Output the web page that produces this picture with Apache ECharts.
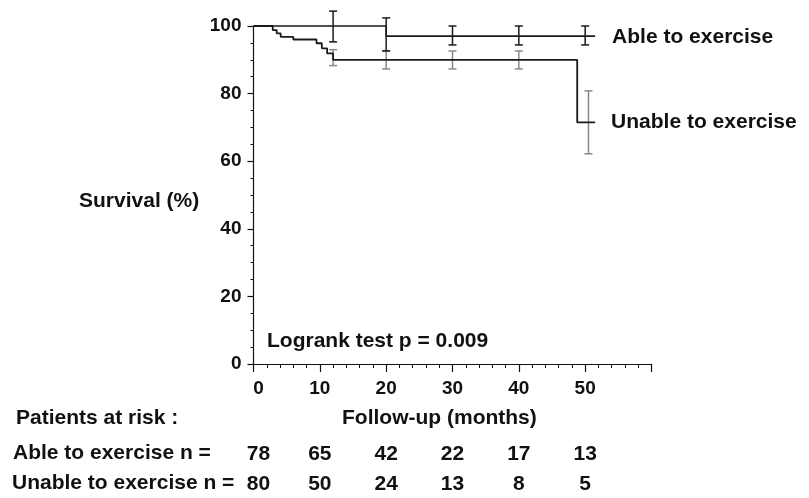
<!DOCTYPE html>
<html>
<head>
<meta charset="utf-8">
<script src="https://cdn.jsdelivr.net/npm/echarts@6/dist/echarts.min.js"></script>
<style>html,body{margin:0;padding:0;background:#fff}#c{width:809px;height:498px}</style>
</head>
<body>
<div id="c"></div>
<script>
// ---- data ----
const xTicks = [0, 10, 20, 30, 40, 50, 60];
const yTicks = [0, 20, 40, 60, 80, 100];
const ableName = 'Able to exercise';
const unableName = 'Unable to exercise';
// Kaplan-Meier step points [month, survival %]
const ableCurve = [[0, 100], [20, 97], [51.5, 97]];
const unableCurve = [[0, 100], [2.9, 98.8], [3.5, 97.8], [4.1, 96.8], [6, 96], [9.5, 94.9], [10.3, 93.4], [11.1, 91.9], [12, 90], [48.8, 71.5], [51.5, 71.5]];
// error bars [month, low, high]
const ableBars = [[12, 95.3, 104.4], [20, 92.6, 102.4], [30, 94.4, 100], [40, 94.4, 100], [50, 94.4, 100]];
const unableBars = [[12, 88.3, 93], [20, 87.3, 92.7], [30, 87.3, 92.6], [40, 87.3, 92.6], [50.5, 62.2, 80.8]];
// patients at risk
const riskMonths = [0, 10, 20, 30, 40, 50];
const ableAtRisk = [78, 65, 42, 22, 17, 13];
const unableAtRisk = [80, 50, 24, 13, 8, 5];
const logrankText = 'Logrank test p = 0.009';
const yAxisTitle = 'Survival (%)';
const xAxisTitle = 'Follow-up (months)';
const riskTitle = 'Patients at risk :';
const ableRowLabel = 'Able to exercise n =';
const unableRowLabel = 'Unable to exercise n =';

const FONT = "'Liberation Sans', Arial, Helvetica, sans-serif";
const INK = '#111';

function errRender(color) {
  return function (params, api) {
    const x = api.value(0);
    const p1 = api.coord([x, api.value(1)]);
    const p2 = api.coord([x, api.value(2)]);
    const w = 4;
    const st = { stroke: color, lineWidth: 1.5 };
    return {
      type: 'group',
      children: [
        { type: 'line', shape: { x1: p1[0], y1: p1[1], x2: p2[0], y2: p2[1] }, style: st },
        { type: 'line', shape: { x1: p1[0] - w, y1: p1[1], x2: p1[0] + w, y2: p1[1] }, style: st },
        { type: 'line', shape: { x1: p2[0] - w, y1: p2[1], x2: p2[0] + w, y2: p2[1] }, style: st }
      ]
    };
  };
}

const zeroRich = { z: { padding: [0, 0, 0, 10] } };

function riskAxis(values, margin, size) {
  return {
    type: 'value', min: 0, max: 60, interval: 10, position: 'bottom',
    axisLine: { show: false }, axisTick: { show: false }, splitLine: { show: false },
    axisLabel: {
      margin: margin, verticalAlign: 'middle',
      color: INK, fontFamily: FONT, fontWeight: 'bold', fontSize: size,
      rich: { z: { padding: [0, 0, 0, 10], color: INK, fontFamily: FONT, fontWeight: 'bold', fontSize: size } },
      formatter: function (v) {
        const i = riskMonths.indexOf(v);
        if (i < 0) return '';
        return v === 0 ? '{z|' + values[i] + '}' : String(values[i]);
      }
    }
  };
}

const chart = echarts.init(document.getElementById('c'), null, { renderer: 'canvas' });
chart.setOption({
  animation: false,
  backgroundColor: '#fff',
  grid: { left: 253.5, top: 26, width: 398, height: 338 },
  xAxis: [
    {
      type: 'value', min: 0, max: 60, interval: 10,
      axisLine: { lineStyle: { color: INK, width: 1.2 } },
      axisTick: { length: 8, lineStyle: { color: INK, width: 1.2 } },
      minorTick: { show: true, splitNumber: 5, length: 4, lineStyle: { color: INK, width: 1 } },
      splitLine: { show: false },
      axisLabel: {
        margin: 25, verticalAlign: 'middle', color: INK, fontFamily: FONT, fontWeight: 'bold', fontSize: 19,
        rich: { z: { padding: [0, 0, 0, 10], color: INK, fontFamily: FONT, fontWeight: 'bold', fontSize: 19 } },
        formatter: function (v) {
          if (xTicks.indexOf(v) < 0 || v >= 60) return '';
          return v === 0 ? '{z|0}' : String(v);
        }
      }
    },
    riskAxis(ableAtRisk, 90, 21),
    riskAxis(unableAtRisk, 120.5, 21)
  ],
  yAxis: {
    type: 'value', min: 0, max: 100, interval: 20,
    axisLine: { show: true, lineStyle: { color: INK, width: 1.2 } },
    axisTick: { show: true, length: 6, lineStyle: { color: INK, width: 1.2 } },
    minorTick: { show: true, splitNumber: 4, length: 3, lineStyle: { color: INK, width: 1 } },
    splitLine: { show: false },
    axisLabel: {
      margin: 12, color: INK, fontFamily: FONT, fontWeight: 'bold', fontSize: 19,
      formatter: function (v) { return yTicks.indexOf(v) >= 0 ? String(v) : ''; }
    }
  },
  series: [
    {
      name: ableName, type: 'line', step: 'end', data: ableCurve, showSymbol: false, symbol: 'none', clip: false,
      lineStyle: { color: '#1a1a1a', width: 1.6 },
      endLabel: { show: true, formatter: '{a}', distance: 17, offset: [0, 1], color: INK, fontFamily: FONT, fontWeight: 'bold', fontSize: 21 }
    },
    {
      name: unableName, type: 'line', step: 'end', data: unableCurve, showSymbol: false, symbol: 'none', clip: false,
      lineStyle: { color: '#1a1a1a', width: 1.8 },
      endLabel: { show: true, formatter: '{a}', distance: 16, color: INK, fontFamily: FONT, fontWeight: 'bold', fontSize: 21 }
    },
    { type: 'custom', data: unableBars, renderItem: errRender('#8a8a8a'), z: 3 },
    { type: 'custom', data: ableBars, renderItem: errRender('#1a1a1a'), z: 4 }
  ],
  graphic: [
    { type: 'text', left: 79, top: 191, style: { text: yAxisTitle, fill: INK, font: 'bold 21px ' + FONT } },
    { type: 'text', left: 267, top: 331, style: { text: logrankText, fill: INK, font: 'bold 21px ' + FONT } },
    { type: 'text', left: 16, top: 408, style: { text: riskTitle, fill: INK, font: 'bold 21px ' + FONT } },
    { type: 'text', left: 342, top: 408, style: { text: xAxisTitle, fill: INK, font: 'bold 21px ' + FONT } },
    { type: 'text', left: 13, top: 443, style: { text: ableRowLabel, fill: INK, font: 'bold 21px ' + FONT } },
    { type: 'text', left: 12, top: 473, style: { text: unableRowLabel, fill: INK, font: 'bold 21px ' + FONT } }
  ]
});
</script>
</body>
</html>
